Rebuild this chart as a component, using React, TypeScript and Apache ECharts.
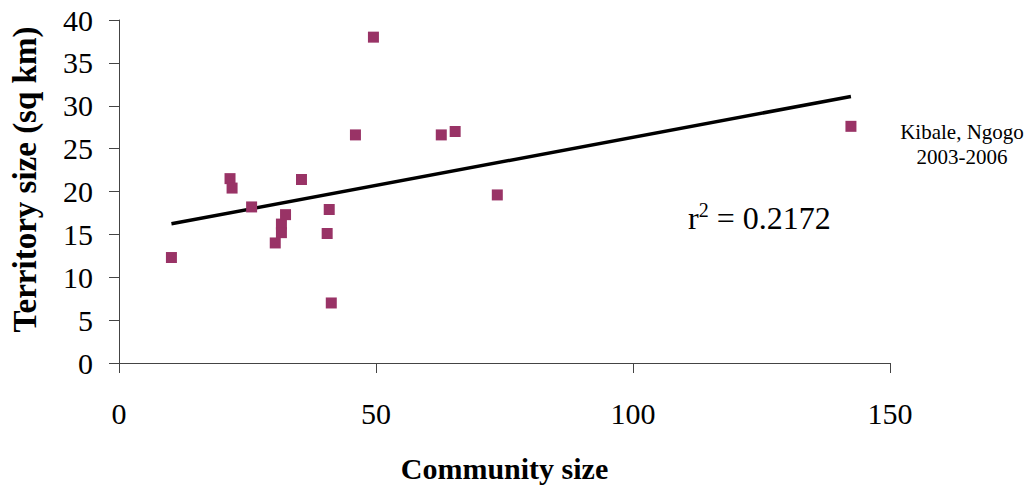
import React, { useEffect, useRef } from "react";
import * as echarts from "echarts";

// Data
const communitySize = [10.2, 21.6, 22.0, 25.8, 30.4, 31.6, 31.6, 32.4, 35.5, 40.5, 40.9, 41.3, 46.0, 49.5, 62.7, 65.4, 73.6, 142.4];
const territorySize = [12.3, 21.5, 20.4, 18.2, 14.0, 16.2, 15.2, 17.3, 21.4, 15.1, 17.9, 7.0, 26.6, 38.0, 26.6, 27.0, 19.6, 27.6];
const xTickValues = [0, 50, 100, 150];
const yTickValues = [0, 5, 10, 15, 20, 25, 30, 35, 40];
const seriesNameLines = ["Kibale, Ngogo", "2003-2006"];
const rSquaredText = "0.2172";
const xAxisTitle = "Community size";
const yAxisTitle = "Territory size (sq km)";

const FONT = "'Liberation Serif', 'Times New Roman', serif";
const MARKER = "#993366";

function linearFit(xs: number[], ys: number[]) {
  const n = xs.length;
  const mx = xs.reduce((a, b) => a + b, 0) / n;
  const my = ys.reduce((a, b) => a + b, 0) / n;
  let sxy = 0;
  let sxx = 0;
  for (let i = 0; i < n; i++) {
    sxy += (xs[i] - mx) * (ys[i] - my);
    sxx += (xs[i] - mx) * (xs[i] - mx);
  }
  const slope = sxy / sxx;
  return { slope, intercept: my - slope * mx };
}

export default function App() {
  const ref = useRef<HTMLDivElement>(null);

  useEffect(() => {
    if (!ref.current) return;
    const chart = echarts.init(ref.current, undefined, { renderer: "svg" });
    const points = communitySize.map((x, i) => [x, territorySize[i]]);
    const { slope, intercept } = linearFit(communitySize, territorySize);
    const xMin = Math.min(...communitySize);
    const xMax = Math.max(...communitySize);
    const trend = [
      [xMin, intercept + slope * xMin],
      [xMax, intercept + slope * xMax],
    ];
    const seriesName = seriesNameLines.join("\n");

    chart.setOption({
      animation: false,
      backgroundColor: "#ffffff",
      grid: { left: 117, right: 142, top: 20, bottom: 131, containLabel: false },
      xAxis: {
        type: "value",
        min: xTickValues[0],
        max: xTickValues[xTickValues.length - 1],
        interval: xTickValues[1] - xTickValues[0],
        name: xAxisTitle,
        nameLocation: "middle",
        nameGap: 90,
        nameTextStyle: { fontFamily: FONT, fontSize: 30, fontWeight: "bold", color: "#000" },
        axisLine: { show: true, lineStyle: { color: "#444", width: 1 } },
        axisTick: { show: true, inside: false, length: 10, lineStyle: { color: "#444" } },
        axisLabel: { fontFamily: FONT, fontSize: 30, color: "#000", margin: 35 },
        splitLine: { show: false },
      },
      yAxis: {
        type: "value",
        min: yTickValues[0],
        max: yTickValues[yTickValues.length - 1],
        interval: yTickValues[1] - yTickValues[0],
        name: yAxisTitle,
        nameLocation: "middle",
        nameGap: 78,
        nameTextStyle: {
          fontFamily: FONT,
          fontSize: 33,
          fontWeight: "bold",
          color: "#000",
          padding: [0, 0, 0, 24],
        },
        axisLine: { show: true, lineStyle: { color: "#444", width: 1 } },
        axisTick: { show: true, inside: false, length: 10, lineStyle: { color: "#444" } },
        axisLabel: { fontFamily: FONT, fontSize: 30, color: "#000", margin: 26 },
        splitLine: { show: false },
      },
      graphic: [
        {
          type: "text",
          left: 688,
          top: 200,
          style: {
            text: "{r|r}{sup|2}{r| = " + rSquaredText + "}",
            fontFamily: FONT,
            fill: "#000",
            rich: {
              r: { fontFamily: FONT, fontSize: 32, color: "#000", verticalAlign: "bottom" },
              sup: { fontFamily: FONT, fontSize: 20, color: "#000", verticalAlign: "top", padding: [0, 0, 14, 0] },
            },
          },
        },
        {
          type: "text",
          x: 962,
          y: 119,
          style: {
            text: seriesName,
            fontFamily: FONT,
            fontSize: 21,
            lineHeight: 25,
            fill: "#000",
            align: "center",
            verticalAlign: "top",
          },
        },
      ],
      series: [
        {
          name: seriesName,
          type: "scatter",
          data: points,
          symbol: "rect",
          symbolSize: 11,
          itemStyle: { color: MARKER, opacity: 1 },
          z: 3,
        },
        {
          name: "trend",
          type: "line",
          data: trend,
          symbol: "none",
          silent: true,
          lineStyle: { color: "#000", width: 3.5 },
          z: 2,
        },
      ],
    });

    return () => chart.dispose();
  }, []);

  return <div ref={ref} style={{ width: 1032, height: 494, margin: -8 }} />;
}
